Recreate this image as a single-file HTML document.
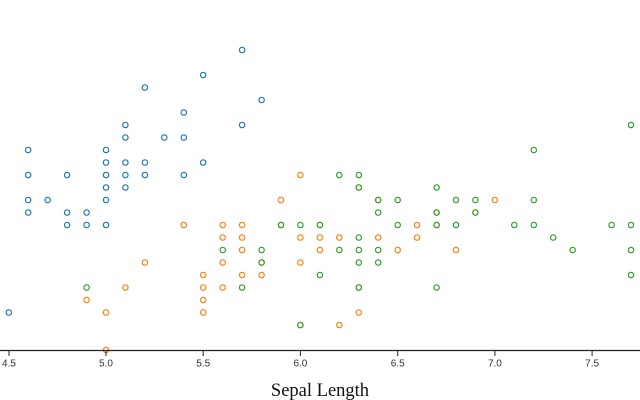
<!DOCTYPE html>
<html><head><meta charset="utf-8"><style>
html,body{margin:0;padding:0;background:#fff;}
svg{display:block;}
.s circle{stroke:#1f77b4;}
.v circle{stroke:#ff7f0e;}
.g circle{stroke:#2ca02c;}
circle{fill:none;stroke-width:1.15;}
.tick text{font-family:"Liberation Sans",sans-serif;font-size:10px;fill:#333;text-anchor:middle;}
</style></head><body>
<svg width="640" height="400" viewBox="0 0 640 400" xmlns="http://www.w3.org/2000/svg">
<rect width="640" height="400" fill="#fff"/>
<g class="s">
<circle cx="125.4" cy="162.5" r="2.7"/><circle cx="86.6" cy="225" r="2.7"/><circle cx="47.7" cy="200" r="2.7"/><circle cx="28.2" cy="212.5" r="2.7"/><circle cx="106" cy="150" r="2.7"/><circle cx="183.8" cy="112.5" r="2.7"/><circle cx="28.2" cy="175" r="2.7"/><circle cx="106" cy="175" r="2.7"/><circle cx="86.6" cy="212.5" r="2.7"/><circle cx="183.8" cy="137.5" r="2.7"/><circle cx="67.1" cy="175" r="2.7"/><circle cx="67.1" cy="225" r="2.7"/><circle cx="261.6" cy="100" r="2.7"/><circle cx="242.1" cy="50" r="2.7"/><circle cx="242.1" cy="125" r="2.7"/><circle cx="125.4" cy="125" r="2.7"/><circle cx="183.8" cy="175" r="2.7"/><circle cx="125.4" cy="137.5" r="2.7"/><circle cx="28.2" cy="150" r="2.7"/><circle cx="125.4" cy="187.5" r="2.7"/><circle cx="106" cy="225" r="2.7"/><circle cx="144.9" cy="162.5" r="2.7"/><circle cx="144.9" cy="175" r="2.7"/><circle cx="67.1" cy="212.5" r="2.7"/><circle cx="144.9" cy="87.5" r="2.7"/><circle cx="203.2" cy="75" r="2.7"/><circle cx="106" cy="200" r="2.7"/><circle cx="203.2" cy="162.5" r="2.7"/><circle cx="125.4" cy="175" r="2.7"/><circle cx="106" cy="162.5" r="2.7"/><circle cx="8.8" cy="312.5" r="2.7"/><circle cx="28.2" cy="200" r="2.7"/><circle cx="164.3" cy="137.5" r="2.7"/><circle cx="106" cy="187.5" r="2.7"/>
</g>
<g class="v">
<circle cx="494.9" cy="200" r="2.7"/><circle cx="378.2" cy="200" r="2.7"/><circle cx="475.4" cy="212.5" r="2.7"/><circle cx="203.2" cy="312.5" r="2.7"/><circle cx="397.7" cy="250" r="2.7"/><circle cx="242.1" cy="250" r="2.7"/><circle cx="358.8" cy="187.5" r="2.7"/><circle cx="86.6" cy="300" r="2.7"/><circle cx="417.1" cy="237.5" r="2.7"/><circle cx="144.9" cy="262.5" r="2.7"/><circle cx="106" cy="350" r="2.7"/><circle cx="281" cy="225" r="2.7"/><circle cx="300.4" cy="325" r="2.7"/><circle cx="319.9" cy="237.5" r="2.7"/><circle cx="222.7" cy="237.5" r="2.7"/><circle cx="436.6" cy="212.5" r="2.7"/><circle cx="222.7" cy="225" r="2.7"/><circle cx="261.6" cy="262.5" r="2.7"/><circle cx="339.3" cy="325" r="2.7"/><circle cx="222.7" cy="287.5" r="2.7"/><circle cx="281" cy="200" r="2.7"/><circle cx="319.9" cy="250" r="2.7"/><circle cx="358.8" cy="287.5" r="2.7"/><circle cx="378.2" cy="237.5" r="2.7"/><circle cx="417.1" cy="225" r="2.7"/><circle cx="456" cy="250" r="2.7"/><circle cx="436.6" cy="225" r="2.7"/><circle cx="300.4" cy="237.5" r="2.7"/><circle cx="242.1" cy="275" r="2.7"/><circle cx="203.2" cy="300" r="2.7"/><circle cx="300.4" cy="262.5" r="2.7"/><circle cx="183.8" cy="225" r="2.7"/><circle cx="300.4" cy="175" r="2.7"/><circle cx="358.8" cy="312.5" r="2.7"/><circle cx="203.2" cy="287.5" r="2.7"/><circle cx="203.2" cy="275" r="2.7"/><circle cx="319.9" cy="225" r="2.7"/><circle cx="261.6" cy="275" r="2.7"/><circle cx="106" cy="312.5" r="2.7"/><circle cx="222.7" cy="262.5" r="2.7"/><circle cx="242.1" cy="225" r="2.7"/><circle cx="242.1" cy="237.5" r="2.7"/><circle cx="339.3" cy="237.5" r="2.7"/><circle cx="125.4" cy="287.5" r="2.7"/>
</g>
<g class="g">
<circle cx="358.8" cy="187.5" r="2.7"/><circle cx="261.6" cy="262.5" r="2.7"/><circle cx="514.3" cy="225" r="2.7"/><circle cx="358.8" cy="237.5" r="2.7"/><circle cx="397.7" cy="225" r="2.7"/><circle cx="611.6" cy="225" r="2.7"/><circle cx="86.6" cy="287.5" r="2.7"/><circle cx="553.2" cy="237.5" r="2.7"/><circle cx="436.6" cy="287.5" r="2.7"/><circle cx="533.8" cy="150" r="2.7"/><circle cx="397.7" cy="200" r="2.7"/><circle cx="378.2" cy="262.5" r="2.7"/><circle cx="456" cy="225" r="2.7"/><circle cx="242.1" cy="287.5" r="2.7"/><circle cx="261.6" cy="250" r="2.7"/><circle cx="378.2" cy="200" r="2.7"/><circle cx="631" cy="125" r="2.7"/><circle cx="631" cy="275" r="2.7"/><circle cx="300.4" cy="325" r="2.7"/><circle cx="475.4" cy="200" r="2.7"/><circle cx="222.7" cy="250" r="2.7"/><circle cx="631" cy="250" r="2.7"/><circle cx="358.8" cy="262.5" r="2.7"/><circle cx="436.6" cy="187.5" r="2.7"/><circle cx="533.8" cy="200" r="2.7"/><circle cx="339.3" cy="250" r="2.7"/><circle cx="319.9" cy="225" r="2.7"/><circle cx="378.2" cy="250" r="2.7"/><circle cx="533.8" cy="225" r="2.7"/><circle cx="572.7" cy="250" r="2.7"/><circle cx="358.8" cy="250" r="2.7"/><circle cx="319.9" cy="275" r="2.7"/><circle cx="631" cy="225" r="2.7"/><circle cx="358.8" cy="175" r="2.7"/><circle cx="378.2" cy="212.5" r="2.7"/><circle cx="300.4" cy="225" r="2.7"/><circle cx="475.4" cy="212.5" r="2.7"/><circle cx="436.6" cy="212.5" r="2.7"/><circle cx="456" cy="200" r="2.7"/><circle cx="436.6" cy="225" r="2.7"/><circle cx="358.8" cy="287.5" r="2.7"/><circle cx="339.3" cy="175" r="2.7"/><circle cx="281" cy="225" r="2.7"/>
</g>
<path d="M0,350.5H640" stroke="#222" stroke-width="1.2" fill="none"/>
<g stroke="#222" stroke-width="1">
<line x1="9" y1="350" x2="9" y2="356"/>
<line x1="106" y1="350" x2="106" y2="356"/>
<line x1="203.2" y1="350" x2="203.2" y2="356"/>
<line x1="300.4" y1="350" x2="300.4" y2="356"/>
<line x1="397.7" y1="350" x2="397.7" y2="356"/>
<line x1="494.9" y1="350" x2="494.9" y2="356"/>
<line x1="592.1" y1="350" x2="592.1" y2="356"/>
</g>
<g class="tick">
<text x="9" y="366.5">4.5</text>
<text x="106" y="366.5">5.0</text>
<text x="203.2" y="366.5">5.5</text>
<text x="300.4" y="366.5">6.0</text>
<text x="397.7" y="366.5">6.5</text>
<text x="494.9" y="366.5">7.0</text>
<text x="592.1" y="366.5">7.5</text>
</g>
<text x="320" y="396" font-family="'Liberation Serif',serif" font-size="18.5" fill="#111" text-anchor="middle">Sepal Length</text>
</svg>
</body></html>
